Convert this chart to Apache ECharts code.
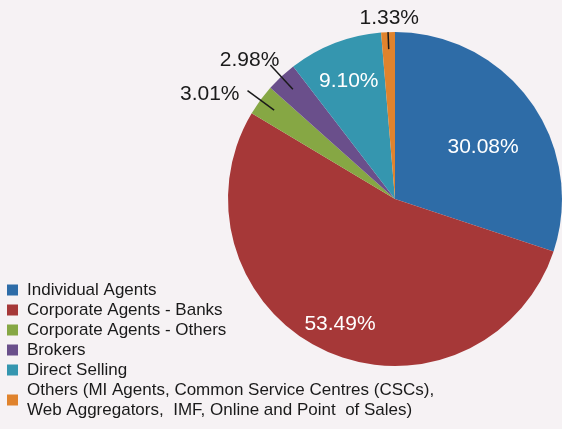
<!DOCTYPE html>
<html>
<head>
	<meta charset="utf-8">
	<title>Distribution channel share</title>
	<script src="https://cdn.jsdelivr.net/npm/echarts@6/dist/echarts.min.js"></script>
	<style type="text/css">
		html, body { margin: 0; padding: 0; background: #f6f2f4; }
		#main { width: 562px; height: 429px; }
	</style>
</head>
<body>
	<div id="main"></div>
	<script type="text/javascript">
		var categories = [
			'Individual Agents',
			'Corporate Agents - Banks',
			'Corporate Agents - Others',
			'Brokers',
			'Direct Selling',
			'Others (MI Agents, Common Service Centres (CSCs),\nWeb Aggregators,  IMF, Online and Point  of Sales)'
		];
		var shares = [30.08, 53.49, 3.01, 2.98, 9.10, 1.33];
		var colors = ['#2e6ca7', '#a63838', '#86a744', '#6a4f8b', '#3596af', '#e0832d'];
		var insideLabel = [true, true, false, false, true, false];

		// label nudges (dx, dy) and leader line lengths
		var labelShift = [[18, -1], [-19, 47], [-3, 4], [14, -5], [-15, -37], [36, -14]];
		var lineLength = [0, 0, 33, 33, 0, 17];

		var fmt = function (p) { return p.value.toFixed(2) + '%'; };

		var pieData = [];
		var calloutData = [];
		for (var i = 0; i < categories.length; i++) {
			pieData.push({
				name: categories[i],
				value: shares[i],
				itemStyle: { color: colors[i] },
				label: { show: insideLabel[i] }
			});
			// invisible copy, slightly smaller, so the leader lines start inside the slice
			calloutData.push({
				name: categories[i],
				value: shares[i],
				label: { show: !insideLabel[i] },
				labelLine: { show: !insideLabel[i], length: lineLength[i], length2: 0 }
			});
		}

		var shiftLabel = function (params) {
			var s = labelShift[params.dataIndex];
			return { dx: s[0], dy: s[1] };
		};

		var myChart = echarts.init(document.getElementById('main'));
		var option = {
			backgroundColor: '#f6f2f4',
			animation: false,
			legend: {
				orient: 'vertical',
				left: 7,
				top: 280,
				height: 160,
				padding: 0,
				itemWidth: 11,
				itemHeight: 11,
				itemGap: 0,
				icon: 'rect',
				textStyle: {
					fontFamily: 'Liberation Sans',
					fontSize: 17,
					lineHeight: 20,
					padding: [0, 0, 0, 4],
					color: '#1a1a1a'
				},
				data: categories
			},
			series: [{
				type: 'pie',
				z: 2,
				center: [395, 199],
				radius: 167,
				startAngle: 90,
				clockwise: true,
				avoidLabelOverlap: false,
				label: {
					position: 'inside',
					formatter: fmt,
					fontFamily: 'Liberation Sans',
					fontSize: 21,
					color: '#ffffff'
				},
				labelLine: { show: false },
				labelLayout: shiftLabel,
				data: pieData
			}, {
				type: 'pie',
				z: 5,
				silent: true,
				center: [395, 199],
				radius: 150,
				startAngle: 90,
				clockwise: true,
				avoidLabelOverlap: false,
				itemStyle: { color: 'rgba(0,0,0,0)', borderWidth: 0 },
				label: {
					position: 'outside',
					formatter: fmt,
					fontFamily: 'Liberation Sans',
					fontSize: 21,
					color: '#1a1a1a',
					opacity: 1
				},
				labelLine: {
					lineStyle: { color: '#1a1a1a', width: 1.5, opacity: 1 }
				},
				labelLayout: shiftLabel,
				data: calloutData
			}]
		};
		myChart.setOption(option);
	</script>
</body>
</html>
